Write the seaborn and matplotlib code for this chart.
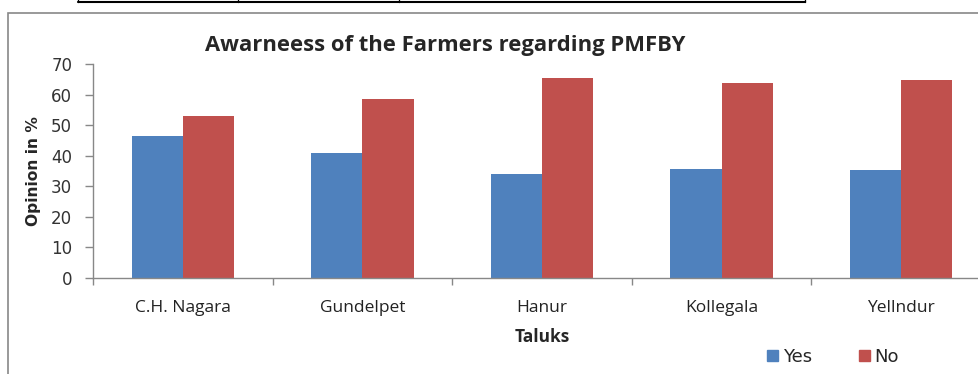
import numpy as np
import pandas as pd
import matplotlib
matplotlib.use('Agg')
import matplotlib.pyplot as plt
import seaborn as sns
from matplotlib.lines import Line2D
from matplotlib.patches import Rectangle

taluks = ['C.H. Nagara', 'Gundelpet', 'Hanur', 'Kollegala', 'Yellndur']
yes_vals = [46.6, 41.0, 34.1, 35.7, 35.2]
no_vals = [53.0, 58.6, 65.4, 63.9, 64.8]

df = pd.DataFrame({'Taluk': taluks * 2,
                   'Opinion': ['Yes'] * 5 + ['No'] * 5,
                   'Value': yes_vals + no_vals})

sns.set_style('white')
plt.rcParams['font.family'] = ['DejaVu Sans']

fig = plt.figure(figsize=(9.79, 3.74), dpi=100)
ax = fig.add_axes([93 / 979, 96.3 / 374, 898 / 979, 213.4 / 374])

sns.barplot(data=df, x='Taluk', y='Value', hue='Opinion',
            palette={'Yes': '#4F81BD', 'No': '#C0504D'},
            width=0.57, gap=0, saturation=1, ax=ax, legend=False,
            linewidth=0, edgecolor='none')

ax.set_xlim(-0.5, 4.5)
ax.set_ylim(0, 70)
ax.set_yticks(range(0, 71, 10))
ax.tick_params(axis='y', labelsize=12, colors='#333333', length=6, width=1, direction='out', left=True, pad=9)
ax.tick_params(axis='x', which='major', length=0, pad=16)
ax.set_xticks(np.arange(-0.5, 4.6, 1), minor=True)
ax.tick_params(axis='x', which='minor', length=5, width=1, color='#888888', direction='out', bottom=True)
for lab in ax.get_xticklabels():
    lab.set_fontfamily('Open Sans')
    lab.set_fontsize(12.5)
    lab.set_color('#222222')
for lab in ax.get_yticklabels():
    lab.set_color('#333333')
ax.tick_params(axis='y', color='#888888')
for s in ['top', 'right']:
    ax.spines[s].set_visible(False)
for s in ['left', 'bottom']:
    ax.spines[s].set_color('#888888')
    ax.spines[s].set_linewidth(1)

ax.set_xlabel('Taluks', fontsize=12.5, fontweight='bold', fontfamily='Open Sans', labelpad=9)
ax.set_ylabel('Opinion in %', fontsize=11.2, fontweight='bold', labelpad=7)

fig.text(205 / 979, 1 - 45 / 374, 'Awarneess of the Farmers regarding PMFBY',
         fontsize=15.8, fontweight='bold', fontfamily='Open Sans',
         ha='left', va='center')

handles = [Rectangle((0, 0), 1, 1, color='#4F81BD'), Rectangle((0, 0), 1, 1, color='#C0504D')]
fig.legend(handles, ['Yes', 'No'], loc='center', bbox_to_anchor=(833 / 979, 1 - 357 / 374),
           ncol=2, frameon=False, fontsize=13, handlelength=0.6, handleheight=0.6,
           handletextpad=0.25, columnspacing=2.6)

# chart frame and table fragment above
fig.add_artist(Rectangle((8 / 979, -0.05), 1.0, 1 - 13 / 374 + 0.05, transform=fig.transFigure,
                         fill=False, edgecolor='#888888', linewidth=1.2))
fig.add_artist(Line2D([78 / 979, 805 / 979], [1 - 2 / 374, 1 - 2 / 374], color='black', linewidth=1.5))
for xp in [78, 238, 399, 805]:
    fig.add_artist(Line2D([xp / 979, xp / 979], [1 - 2 / 374, 1.0], color='black', linewidth=1))

fig.savefig('out.png', dpi=100, facecolor='white')
